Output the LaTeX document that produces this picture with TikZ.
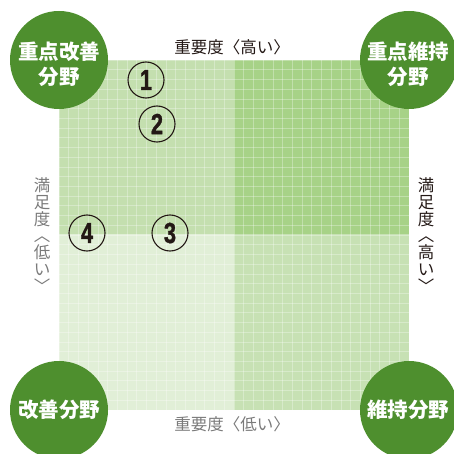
\documentclass[tikz,border=0pt]{standalone}
\usepackage{fontspec}
\newfontfamily\jp{Noto Sans CJK JP}
\newfontfamily\numfont[UprightFont={* Bold},FakeBold=1.6]{Liberation Sans}
\definecolor{circgreen}{HTML}{4E8F2E}
\definecolor{qa}{HTML}{C4DFAF}
\definecolor{qb}{HTML}{A7D287}
\definecolor{qc}{HTML}{E1EFD7}
\definecolor{qd}{HTML}{C7E1B4}
\definecolor{darktext}{HTML}{231815}
\definecolor{graytext}{HTML}{7A7A7A}
\tikzset{
  bigcirc/.style={circle, fill=circgreen, minimum size=98pt, inner sep=0pt},
  bigtext/.style={text=white, font=\jp\bfseries\fontsize{20.5}{25}\selectfont, align=center, inner sep=0pt},
  numcirc/.style={circle, draw=darktext, line width=1.1pt, minimum size=36pt, inner sep=0pt, text=darktext, font=\numfont\fontsize{29}{29}\selectfont},
  axlbl/.style={font=\jp\fontsize{16.5}{16.5}\selectfont, inner sep=0pt},
  vlbl/.style={font=\jp\fontsize{16.5}{16.7}\selectfont, align=center, inner sep=0pt},
  gridline/.style={white, opacity=0.3, line width=0.7pt}
}
\begin{document}
\begin{tikzpicture}[x=1pt,y=-1pt]
\useasboundingbox (0,0) rectangle (454,454);
\clip (0,0) rectangle (454,454);
% quadrants
\fill[qa] (59,60) rectangle (234,234);
\fill[qb] (234,60) rectangle (409,234);
\fill[qc] (59,234) rectangle (234,410);
\fill[qd] (234,234) rectangle (409,410);
% grid
\foreach \i in {0,...,36} {
  \draw[gridline] ({59+\i*350/36},60) -- ({59+\i*350/36},410);
  \draw[gridline] (59,{60+\i*350/36}) -- (409,{60+\i*350/36});
}
% corner circles
\node[bigcirc] (c1) at (59,60) {};
\node[bigcirc] (c2) at (409,60) {};
\node[bigcirc] (c3) at (59,410) {};
\node[bigcirc] (c4) at (409,410) {};
\node[bigtext] (t1) at (59,64) {重点改善\\分野};
\node[bigtext] (t2) at (408,64) {重点維持\\分野};
\node[bigtext] (t3) at (59,410) {改善分野};
\node[bigtext] (t4) at (408,410) {維持分野};
% axis labels
\node[axlbl, text=darktext] (top) at (232,47) {重要度〈高い〉};
\node[axlbl, text=graytext] (bottom) at (232,424) {重要度〈低い〉};
\node[vlbl, text=graytext] (left) at (42,235) {満\\足\\度\\︿\\低\\い\\﹀};
\node[vlbl, text=darktext] (right) at (426,235) {満\\足\\度\\︿\\高\\い\\﹀};
% numbered items
\node[numcirc] (n1) at (146,80) {\scalebox{0.75}[1]{1}};
\node[numcirc] (n2) at (157,124) {\scalebox{0.75}[1]{2}};
\node[numcirc] (n3) at (170,233) {\scalebox{0.75}[1]{3}};
\node[numcirc] (n4) at (87,233) {\scalebox{0.75}[1]{4}};
\end{tikzpicture}
\end{document}
